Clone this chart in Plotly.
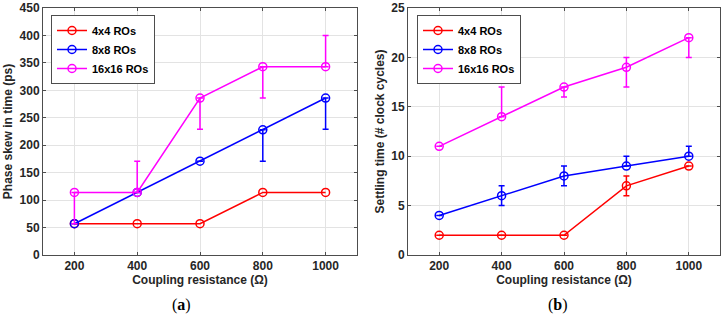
import plotly.graph_objects as go

x_res = [200, 400, 600, 800, 1000]
series_names = ["4x4 ROs", "8x8 ROs", "16x16 ROs"]
colors = ["#ff0000", "#0000ff", "#ff00ff"]

# Panel (a): phase skew (ps)
skew_4 = [57, 57, 57, 114, 114]
skew_4_up = [0, 0, 0, 0, 0]
skew_4_dn = [0, 0, 0, 0, 0]
skew_8 = [57, 114, 171, 228, 286]
skew_8_up = [0, 0, 0, 0, 0]
skew_8_dn = [0, 0, 0, 57, 57]
skew_16 = [114, 114, 286, 343, 343]
skew_16_up = [0, 57, 0, 0, 57]
skew_16_dn = [57, 0, 57, 57, 0]

# Panel (b): settling time (# clock cycles)
settle_4 = [2, 2, 2, 7, 9]
settle_4_up = [0, 0, 0, 1, 0]
settle_4_dn = [0, 0, 0, 1, 0]
settle_8 = [4, 6, 8, 9, 10]
settle_8_up = [0, 1, 1, 1, 1]
settle_8_dn = [0, 1, 1, 0, 0]
settle_16 = [11, 14, 17, 19, 22]
settle_16_up = [0, 3, 0, 1, 0]
settle_16_dn = [0, 0, 1, 2, 2]

fig = go.Figure()

font_main = "Liberation Sans, Arial, sans-serif"
txt_col = "#262626"

def add(y, up, dn, name, col, xa, ya, leg, show_err=True):
    err = None
    if show_err:
        err = dict(type="data", symmetric=False, array=up, arrayminus=dn,
                   color=col, thickness=1.5, width=3, visible=True)
    fig.add_trace(go.Scatter(
        x=x_res, y=y, name=name, mode="lines+markers",
        line=dict(color=col, width=1.5),
        marker=dict(symbol="circle-open", size=8, color=col, line=dict(width=1.5, color=col)),
        error_y=err, xaxis=xa, yaxis=ya, legend=leg, showlegend=True))

add(skew_4, skew_4_up, skew_4_dn, series_names[0], colors[0], "x", "y", "legend", show_err=False)
add(skew_8, skew_8_up, skew_8_dn, series_names[1], colors[1], "x", "y", "legend")
add(skew_16, skew_16_up, skew_16_dn, series_names[2], colors[2], "x", "y", "legend")
add(settle_4, settle_4_up, settle_4_dn, series_names[0], colors[0], "x2", "y2", "legend2")
add(settle_8, settle_8_up, settle_8_dn, series_names[1], colors[1], "x2", "y2", "legend2")
add(settle_16, settle_16_up, settle_16_dn, series_names[2], colors[2], "x2", "y2", "legend2")

W, H = 726, 324
xd1 = [43 / W, 357 / W]
xd2 = [408 / W, 720 / W]
yd = [1 - 255 / H, 1 - 8 / H]

axis_common = dict(showline=True, linecolor="#4d4d4d", linewidth=1, mirror="ticks",
                   ticks="inside", ticklen=3, tickcolor="#4d4d4d", automargin=False,
                   showgrid=True, gridcolor="#e3e3e3", gridwidth=1, zeroline=False,
                   tickfont=dict(family=font_main, size=12, color=txt_col, weight="bold"))

title_font = dict(family=font_main, size=12, color=txt_col, weight="bold")
leg_common = dict(xanchor="left", yanchor="top",
                  bgcolor="white", bordercolor="#4d4d4d", borderwidth=1,
                  font=dict(family=font_main, size=11, color="black", weight="bold"),
                  tracegroupgap=0, itemwidth=30)

fig.update_layout(
    width=W, height=H, margin=dict(l=0, r=0, t=0, b=0, autoexpand=False),
    paper_bgcolor="white", plot_bgcolor="white",
    font=dict(family=font_main, color=txt_col),
    xaxis=dict(domain=xd1, range=[100, 1100], tickvals=x_res, anchor="y",
               title=dict(text="Coupling resistance (Ω)", standoff=2, font=title_font), **axis_common),
    yaxis=dict(domain=yd, range=[0, 450], dtick=50, anchor="x",
               title=dict(text="Phase skew in time (ps)", standoff=4, font=title_font), **axis_common),
    xaxis2=dict(domain=xd2, range=[100, 1100], tickvals=x_res, anchor="y2",
                title=dict(text="Coupling resistance (Ω)", standoff=2, font=title_font), **axis_common),
    yaxis2=dict(domain=yd, range=[0, 25], dtick=5, anchor="x2",
                title=dict(text="Settling time (# clock cycles)", standoff=4, font=title_font), **axis_common),
    legend=dict(x=51 / W, y=1 - 15 / H, **leg_common),
    legend2=dict(x=417 / W, y=1 - 15 / H, **leg_common),
    annotations=[
        dict(text="(<b>a</b>)", x=181 / W, y=1 - 305 / H, xref="paper", yref="paper",
             xanchor="center", yanchor="middle", showarrow=False,
             font=dict(family="Liberation Serif, serif", size=16, color="black")),
        dict(text="(<b>b</b>)", x=558 / W, y=1 - 305 / H, xref="paper", yref="paper",
             xanchor="center", yanchor="middle", showarrow=False,
             font=dict(family="Liberation Serif, serif", size=16, color="black")),
    ],
)

fig.write_html("out.html", config={"displayModeBar": False},
               post_script="document.body.style.margin='0';document.body.style.overflow='hidden';")
